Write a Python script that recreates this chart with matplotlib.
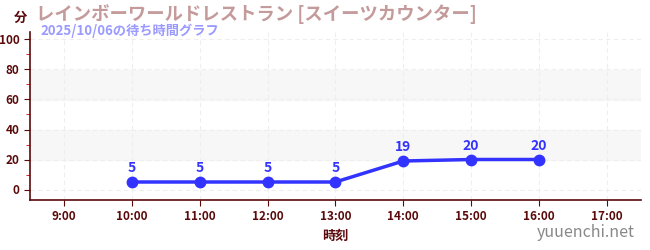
import matplotlib.pyplot as plt
from matplotlib.ticker import MultipleLocator

plt.rcParams['font.family'] = ['Noto Sans CJK JP', 'DejaVu Sans']

# wait-time data
hours = [10, 11, 12, 13, 14, 15, 16]
waits = [5, 5, 5, 5, 19, 20, 20]
tick_hours = [9, 10, 11, 12, 13, 14, 15, 16, 17]
tick_labels = ['%d:00' % h for h in tick_hours]

title = 'レインボーワールドレストラン [スイーツカウンター]'
subtitle = '2025/10/06の待ち時間グラフ'

dark = '#5a0a0a'
blue = '#3333ff'

fig = plt.figure(figsize=(6.5, 2.5), dpi=100)
ax = fig.add_axes([0.046, 0.2, 0.94, 0.672])

# alternating bands
for lo, hi in [(20, 40), (60, 80)]:
    ax.axhspan(lo, hi, color='#f7f7f7', zorder=0)

ax.plot(hours, waits, color=blue, lw=2.5, marker='o', ms=7.5, zorder=3)
for h, w in zip(hours, waits):
    ax.annotate(str(w), (h, w), xytext=(0, 5), textcoords='offset points',
                ha='center', va='bottom', color=blue, fontsize=10, fontweight='bold')

ax.set_xlim(8.5, 17.5)
ax.set_ylim(-7, 105)
ax.set_xticks(tick_hours)
ax.set_xticklabels(tick_labels)
ax.set_yticks([0, 20, 40, 60, 80, 100])
ax.yaxis.set_minor_locator(MultipleLocator(10))

ax.grid(True, which='major', color='#eeeeee', linestyle=(0, (4, 3)), lw=0.8)
ax.set_axisbelow(True)

for s in ['top', 'right']:
    ax.spines[s].set_visible(False)
for s in ['left', 'bottom']:
    ax.spines[s].set_color(dark)
    ax.spines[s].set_linewidth(1.2)

ax.tick_params(axis='both', which='major', colors=dark, labelsize=8.5, length=4)
ax.tick_params(axis='y', which='minor', color='#cc0000', length=3)
for lab in ax.get_xticklabels() + ax.get_yticklabels():
    lab.set_fontweight('bold')
    lab.set_color(dark)

ax.set_xlabel('時刻', color=dark, fontsize=9.5, fontweight='bold', labelpad=4)

fig.text(0.031, 0.93, '分', color=dark, fontsize=9.5, fontweight='bold', ha='center', va='center')
fig.text(0.055, 0.945, title, color='#c49a9a', fontsize=13.2, fontweight='bold', va='center')
fig.text(0.062, 0.878, subtitle, color='#9a9aff', fontsize=9.5, fontweight='bold', va='center')
fig.text(0.977, 0.07, 'yuuenchi.net', color='#888888', fontsize=11.5, ha='right', va='center')

fig.savefig('out.png', dpi=100)
